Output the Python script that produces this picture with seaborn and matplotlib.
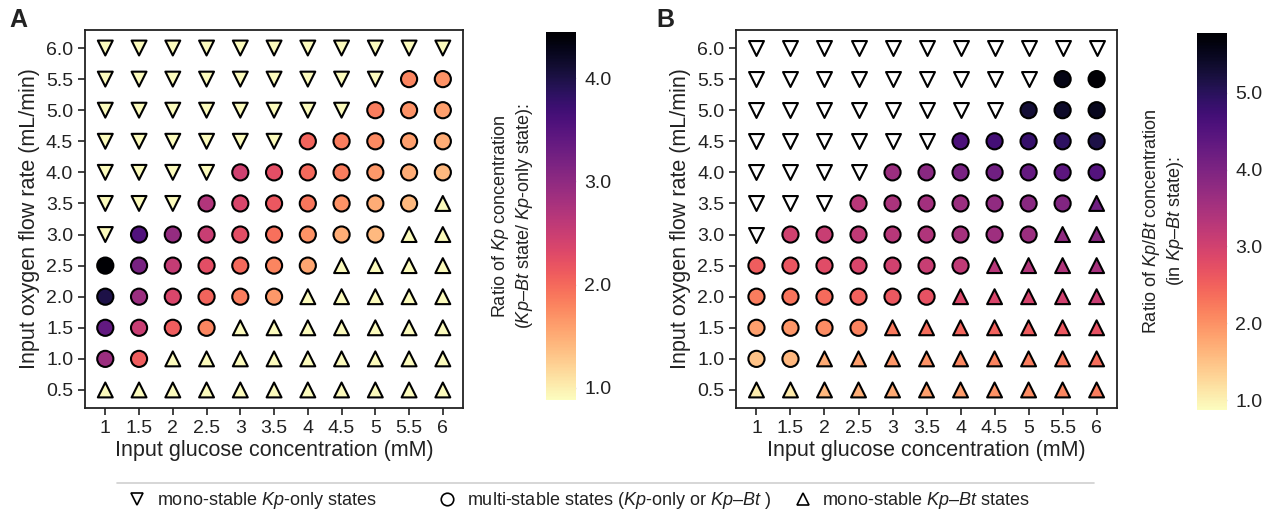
import numpy as np
import pandas as pd
import seaborn as sns
import matplotlib.pyplot as plt
from matplotlib.colors import Normalize
from matplotlib.cm import ScalarMappable
from matplotlib.lines import Line2D

# datos
glucose = [1, 1.5, 2, 2.5, 3, 3.5, 4, 4.5, 5, 5.5, 6]
oxygen = [6.0, 5.5, 5.0, 4.5, 4.0, 3.5, 3.0, 2.5, 2.0, 1.5, 1.0, 0.5]
glucose_labels = ["1", "1.5", "2", "2.5", "3", "3.5", "4", "4.5", "5", "5.5", "6"]
oxygen_labels = ["0.5", "1.0", "1.5", "2.0", "2.5", "3.0", "3.5", "4.0", "4.5", "5.0", "5.5", "6.0"]

# v = mono-stable Kp-only, o = multi-stable, ^ = mono-stable Kp-Bt (filas de 6.0 a 0.5)
states = [
    "vvvvvvvvvvv",
    "vvvvvvvvvoo",
    "vvvvvvvvooo",
    "vvvvvvooooo",
    "vvvvooooooo",
    "vvvooooooo^",
    "voooooooo^^",
    "ooooooo^^^^",
    "oooooo^^^^^",
    "oooo^^^^^^^",
    "oo^^^^^^^^^",
    "^^^^^^^^^^^",
]

# A: ratio Kp (Kp-Bt / Kp-only); estados mono-estables ~0.9
ratio_a = [
    [0.9, 0.9, 0.9, 0.9, 0.9, 0.9, 0.9, 0.9, 0.9, 0.9, 0.9],
    [0.9, 0.9, 0.9, 0.9, 0.9, 0.9, 0.9, 0.9, 0.9, 1.8, 1.7],
    [0.9, 0.9, 0.9, 0.9, 0.9, 0.9, 0.9, 0.9, 1.85, 1.7, 1.6],
    [0.9, 0.9, 0.9, 0.9, 0.9, 0.9, 2.05, 1.85, 1.75, 1.6, 1.5],
    [0.9, 0.9, 0.9, 0.9, 2.45, 2.25, 2.0, 1.85, 1.65, 1.5, 1.4],
    [0.9, 0.9, 0.9, 2.7, 2.35, 2.15, 1.9, 1.7, 1.5, 1.4, 0.9],
    [0.9, 3.55, 2.95, 2.5, 2.25, 1.95, 1.7, 1.5, 1.4, 0.9, 0.9],
    [4.45, 3.2, 2.55, 2.25, 2.0, 1.8, 1.55, 0.9, 0.9, 0.9, 0.9],
    [4.0, 2.9, 2.35, 2.05, 1.85, 1.65, 0.9, 0.9, 0.9, 0.9, 0.9],
    [3.4, 2.5, 2.1, 1.8, 0.9, 0.9, 0.9, 0.9, 0.9, 0.9, 0.9],
    [2.9, 2.1, 0.9, 0.9, 0.9, 0.9, 0.9, 0.9, 0.9, 0.9, 0.9],
    [0.9, 0.9, 0.9, 0.9, 0.9, 0.9, 0.9, 0.9, 0.9, 0.9, 0.9],
]

# B: ratio Kp/Bt en el estado Kp-Bt (None = sin estado Kp-Bt)
ratio_b = [
    [None] * 11,
    [None] * 9 + [5.6, 5.75],
    [None] * 8 + [5.3, 5.4, 5.5],
    [None] * 6 + [4.6, 4.7, 4.85, 4.95, 5.15],
    [None] * 4 + [3.65, 3.85, 4.05, 4.15, 4.3, 4.4, 4.5],
    [None] * 3 + [3.3, 3.45, 3.55, 3.65, 3.75, 3.85, 3.95, 4.15],
    [None, 3.0, 3.1, 3.2, 3.3, 3.4, 3.5, 3.6, 3.65, 3.75, 3.85],
    [2.55, 2.65, 2.8, 2.9, 3.0, 3.1, 3.2, 3.3, 3.35, 3.4, 3.5],
    [2.2, 2.3, 2.4, 2.5, 2.6, 2.7, 2.85, 2.9, 2.95, 3.0, 3.1],
    [1.85, 1.95, 2.05, 2.15, 2.25, 2.35, 2.45, 2.5, 2.55, 2.6, 2.7],
    [1.5, 1.6, 1.75, 1.85, 1.95, 2.0, 2.1, 2.15, 2.2, 2.25, 2.35],
    [1.05, 1.1, 1.6, 1.7, 1.75, 1.85, 1.9, 2.0, 2.05, 2.1, 2.2],
]

ticks_a = [1.0, 2.0, 3.0, 4.0]
ticks_b = [1.0, 2.0, 3.0, 4.0, 5.0]
range_a = (0.88, 4.45)
range_b = (0.87, 5.78)


def tabla(ratio):
    filas = []
    for i, o2 in enumerate(oxygen):
        for j, glc in enumerate(glucose):
            v = ratio[i][j]
            filas.append({"glucose": glc, "oxygen": o2, "state": states[i][j],
                          "ratio": np.nan if v is None else v})
    return pd.DataFrame(filas)


sns.set_theme(style="ticks")
plt.rcParams["font.family"] = ["Liberation Sans", "DejaVu Sans"]
plt.rcParams["mathtext.fontset"] = "custom"
plt.rcParams["mathtext.rm"] = "Liberation Sans"
plt.rcParams["mathtext.it"] = "Liberation Sans:italic"
plt.rcParams["text.color"] = "#222222"
plt.rcParams["axes.labelcolor"] = "#222222"

fig = plt.figure(figsize=(12.75, 5.19), dpi=100)
ax_a = fig.add_axes([0.0667, 0.2139, 0.2965, 0.7283])
cax_a = fig.add_axes([0.4282, 0.2293, 0.0235, 0.709])
ax_b = fig.add_axes([0.5773, 0.2139, 0.2988, 0.7283])
cax_b = fig.add_axes([0.9388, 0.21, 0.0235, 0.7264])

tamanos = {"v": 115, "o": 135, "^": 115}


def panel(ax, cax, df, rango, ticks, etiqueta):
    for st in ["v", "o", "^"]:
        sub = df[df["state"] == st]
        con = sub[sub["ratio"].notna()]
        sin = sub[sub["ratio"].isna()]
        if len(con):
            sns.scatterplot(data=con, x="glucose", y="oxygen", hue="ratio",
                            palette="magma_r", hue_norm=rango, marker=st,
                            s=tamanos[st], edgecolor="black", linewidth=1.5,
                            legend=False, ax=ax, zorder=3)
        if len(sin):
            sns.scatterplot(data=sin, x="glucose", y="oxygen", color="white",
                            marker=st, s=tamanos[st], edgecolor="black",
                            linewidth=1.5, legend=False, ax=ax, zorder=3)
    ax.set_xlim(0.7, 6.3)
    ax.set_ylim(0.21, 6.29)
    ax.set_xticks(glucose)
    ax.set_xticklabels(glucose_labels)
    ax.set_yticks(sorted(oxygen))
    ax.set_yticklabels(oxygen_labels)
    ax.tick_params(labelsize=14, length=5, width=1.3, color="#333333", labelcolor="#222222")
    ax.set_xlabel("Input glucose concentration (mM)", fontsize=15.5, labelpad=2)
    ax.set_ylabel("Input oxygen flow rate (mL/min)", fontsize=15.5, labelpad=4)
    for sp in ax.spines.values():
        sp.set_visible(True)
        sp.set_linewidth(1.3)
        sp.set_color("#222222")

    sm = ScalarMappable(norm=Normalize(*rango), cmap="magma_r")
    cb = fig.colorbar(sm, cax=cax)
    cb.outline.set_visible(False)
    cb.set_ticks(ticks)
    cb.set_ticklabels([f"{t:.1f}" for t in ticks])
    cax.tick_params(left=True, right=True, labelleft=False, direction="in",
                    length=5, width=1, color="#dddddd", labelsize=14, pad=6,
                    labelcolor="#222222")
    cax.yaxis.set_label_position("left")
    cax.set_ylabel(etiqueta, fontsize=13, labelpad=8, linespacing=1.2)


panel(ax_a, cax_a, tabla(ratio_a), range_a, ticks_a,
      "Ratio of $\\mathit{Kp}$ concentration\n"
      "($\\mathit{Kp}$–$\\mathit{Bt}$ state/ $\\mathit{Kp}$-only state):")
panel(ax_b, cax_b, tabla(ratio_b), range_b, ticks_b,
      "Ratio of $\\mathit{Kp/Bt}$ concentration\n"
      "(in $\\mathit{Kp}$–$\\mathit{Bt}$ state):")

fig.text(0.007, 0.985, "A", fontsize=18, fontweight="bold", va="top")
fig.text(0.515, 0.985, "B", fontsize=18, fontweight="bold", va="top")

# leyenda inferior: tres entradas colocadas por separado
fig.add_artist(Line2D([0.092, 0.858], [0.069, 0.069], color="#d0d0d0", lw=1.2))
entradas = [
    ("v", "mono-stable $\\mathit{Kp}$-only states", 0.099),
    ("o", "multi-stable states ($\\mathit{Kp}$-only or $\\mathit{Kp}$–$\\mathit{Bt}$ )", 0.342),
    ("^", "mono-stable $\\mathit{Kp}$–$\\mathit{Bt}$ states", 0.621),
]
for mk, txt, x0 in entradas:
    h = Line2D([], [], marker=mk, ls="none", mfc="none", mec="black", ms=9, mew=1.2)
    fig.legend([h], [txt], loc="center left", bbox_to_anchor=(x0, 0.035),
               frameon=False, borderpad=0, borderaxespad=0, handletextpad=0.5,
               handlelength=1.2, prop={"size": 13})

fig.savefig("out.png", dpi=100)
